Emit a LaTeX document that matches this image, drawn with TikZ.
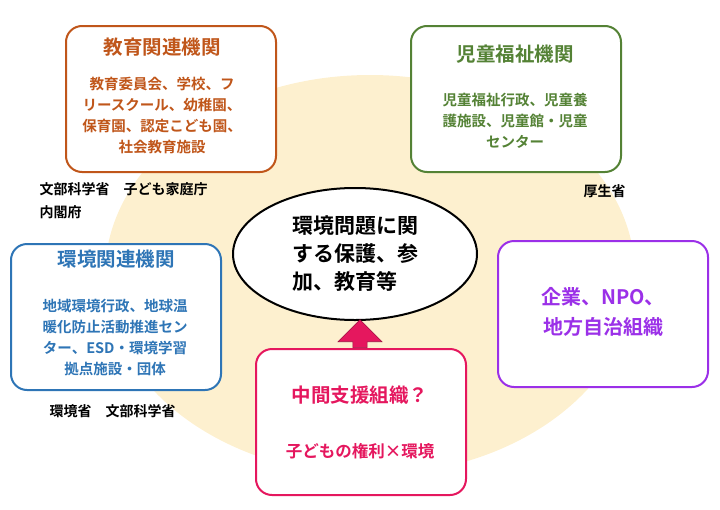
\documentclass[tikz,border=0pt]{standalone}
\usepackage{fontspec}
\setmainfont{Noto Sans CJK JP}[BoldFont={Noto Sans CJK JP Bold}]
\usetikzlibrary{shapes.arrows,shapes.geometric}
\definecolor{edubrown}{HTML}{C0561A}
\definecolor{welfgreen}{HTML}{548235}
\definecolor{envblue}{HTML}{2E75B6}
\definecolor{orgpurple}{HTML}{9B30E8}
\definecolor{midred}{HTML}{E5175E}
\definecolor{paleback}{HTML}{FDF0CF}
\tikzset{
  orgbox/.style={draw,line width=2pt,rounded corners=16pt,fill=white,minimum width=210pt,minimum height=146pt,anchor=north west},
  headtxt/.style={font=\bfseries\fontsize{19.5}{22}\selectfont,align=center},
  bodytxt/.style={font=\bfseries\fontsize{14.5}{21}\selectfont,align=center},
  govtxt/.style={font=\bfseries\fontsize{14}{23}\selectfont,align=left,anchor=west}
}
\begin{document}
\begin{tikzpicture}[x=1pt,y=-1pt]
        \useasboundingbox (0,0) rectangle (720,509);
        % Background disc
        \fill[paleback] (370,275) ellipse (265 and 200);
        % Boxes
        \node[orgbox,draw=edubrown]   (edu)  at (65,25)   {};
        \node[orgbox,draw=welfgreen]  (welf) at (410,25)  {};
        \node[orgbox,draw=envblue]    (env)  at (10,243)  {};
        \node[orgbox,draw=orgpurple]  (corp) at (497,240) {};
        \node[orgbox,draw=midred]     (mid)  at (255,348) {};
        % Box texts
        \node[headtxt,text=edubrown]  (eduh)  at (162,47)  {教育関連機関};
        \node[bodytxt,text=edubrown]  (edub)  at (162,115) {教育委員会、学校、フ\\リースクール、幼稚園、\\保育園、認定こども園、\\社会教育施設};
        \node[headtxt,text=welfgreen] (welfh) at (515,54)  {児童福祉機関};
        \node[bodytxt,text=welfgreen] (welfb) at (515,121) {児童福祉行政、児童養\\護施設、児童館・児童\\センター};
        \node[headtxt,text=envblue]   (envh)  at (116,259) {環境関連機関};
        \node[bodytxt,text=envblue]   (envb)  at (115,337) {地域環境行政、地球温\\暖化防止活動推進セン\\ター、ESD・環境学習\\拠点施設・団体};
        \node[headtxt,text=orgpurple,font=\bfseries\fontsize{20}{30}\selectfont] (corpt) at (603,312) {企業、NPO、\\地方自治組織};
        \node[headtxt,text=midred]    (midh)  at (360,395) {中間支援組織？};
        \node[bodytxt,text=midred,font=\bfseries\fontsize{16.5}{18}\selectfont] (midb) at (360,451) {子どもの権利×環境};
        % Centre
        \node[draw,ellipse,line width=2pt,fill=white,minimum width=244pt,minimum height=132pt,inner sep=0pt,
              font=\bfseries\fontsize{21}{28}\selectfont,align=left] (core) at (355,254) {環境問題に関\\する保護、参\\加、教育等};
        % Arrow
        \node[single arrow,fill=midred,draw=midred!70!black,line width=0.6pt,shape border rotate=90,
              minimum width=44pt,single arrow head extend=11pt,single arrow head indent=0pt,
              inner sep=5pt,minimum height=28pt,anchor=tail] (arr) at (360,348) {};
        % Ministries
        \node[govtxt] (govedu)  at (36,201) {文部科学省　子ども家庭庁\\内閣府};
        \node[govtxt] (govwelf) at (580,191) {厚生省};
        \node[govtxt] (govenv)  at (46,411) {環境省　文部科学省};
\end{tikzpicture}
\end{document}
